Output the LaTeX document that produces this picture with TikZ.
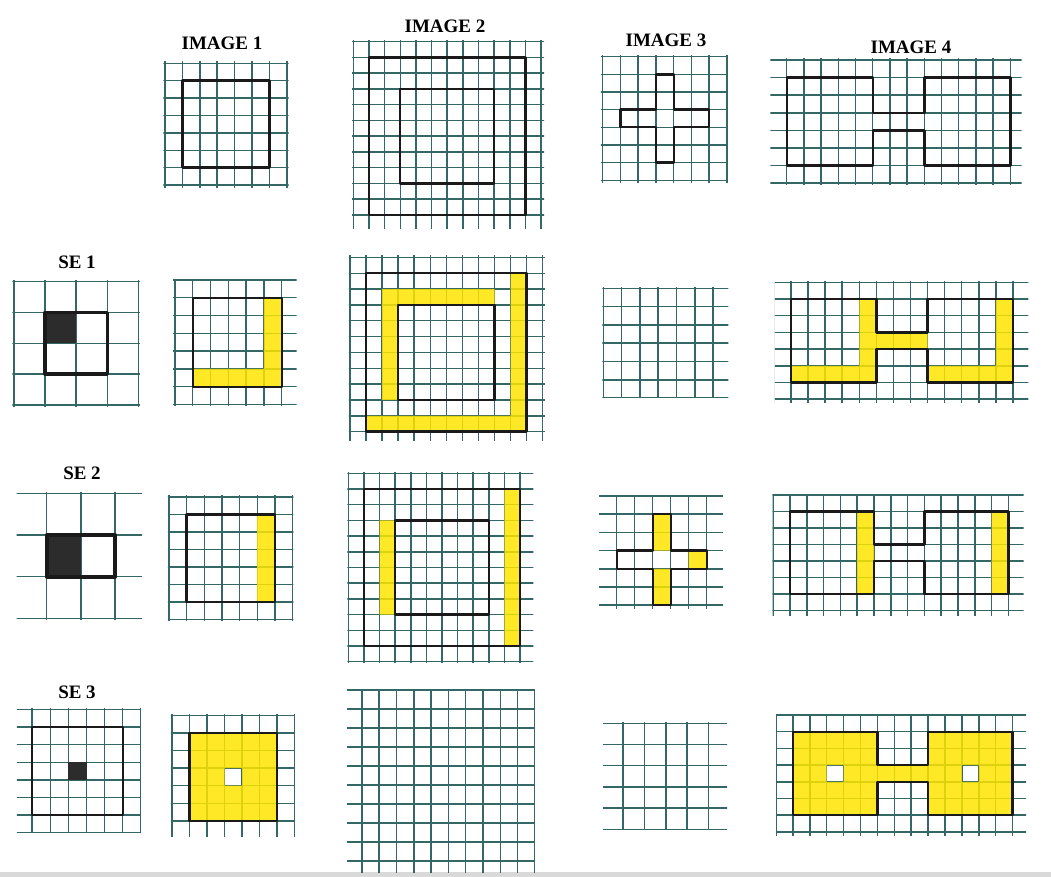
\documentclass[tikz,border=0pt]{standalone}
\usepackage{fontspec}
\setmainfont{Liberation Serif}
\definecolor{gridteal}{RGB}{52,104,102}
\definecolor{hlyellow}{RGB}{255,228,0}
\definecolor{ink}{RGB}{26,26,26}
\newcommand{\paper}[4]{%
 \begin{scope}
  \clip (#1,#2) rectangle (#3,#4);
  \foreach \k in {-1,...,14}{
   \draw[gridline] (\k,-1) -- (\k,15);
   \draw[gridline] (-2,\k) -- (15,\k);}
 \end{scope}}
\def\plusshape{(3,1) -- (4,1) -- (4,3) -- (6,3) -- (6,4) -- (4,4) -- (4,6) -- (3,6) -- (3,4) -- (1,4) -- (1,3) -- (3,3) -- cycle}
\def\hshape{(0,1) -- (5,1) -- (5,3) -- (8,3) -- (8,1) -- (13,1) -- (13,6) -- (8,6) -- (8,4) -- (5,4) -- (5,6) -- (0,6) -- cycle}
\begin{document}
\begin{tikzpicture}[x=1pt,y=-1pt,
 gridline/.style={draw=gridteal,line width=1.45pt},
 outline/.style={draw=ink,line width=2.4pt,line join=round},
 seline/.style={outline,line width=3.6pt},
 hl/.style={fill=hlyellow,fill opacity=.85},
 dark/.style={fill=ink!92},
 title/.style={font=\bfseries\fontsize{19}{21}\selectfont,inner sep=0pt},
 panel/.style n args={4}{shift={(#1,#2)},x=#3pt,y=-#4pt}]
 \fill[white] (0,0) rectangle (1051,877);
 \useasboundingbox (0,0) rectangle (1051,877);
 \fill[gray!30] (0,872) rectangle (1051,877);
 \node[title] (img1) at (222,43) {IMAGE 1};
 \node[title] (img2) at (445,26) {IMAGE 2};
 \node[title] (img3) at (666,40) {IMAGE 3};
 \node[title] (img4) at (911,47) {IMAGE 4};
 \node[title] (se1) at (77,262) {SE 1};
 \node[title] (se2) at (82,473) {SE 2};
 \node[title] (se3) at (77,692) {SE 3};
 % row of the four images
 \begin{scope}[panel={165}{63.3}{17.4}{17.4}]
  \paper{-0.1}{-0.1}{7.1}{7.13}
  \draw[outline] (1,1) rectangle (6,6);
 \end{scope}
 \begin{scope}[panel={353.3}{41.7}{15.65}{15.75}]
  \paper{-0.07}{-0.06}{12.2}{11.85}
  \draw[outline] (1,1) rectangle (11,11);
  \draw[outline] (3,3) rectangle (9,9);
 \end{scope}
 \begin{scope}[panel={602.7}{56.7}{17.75}{17.65}]
  \paper{-0.1}{-0.05}{7.05}{7.15}
  \draw[outline] \plusshape;
 \end{scope}
 \begin{scope}[panel={786.7}{60}{17.2}{17.6}]
  \paper{-0.95}{-0.06}{13.66}{7.1}
  \draw[outline] \hshape;
 \end{scope}
 % SE 1
 \begin{scope}[panel={14}{281.7}{31.1}{30.8}]
  \paper{-0.05}{-0.05}{4.05}{4.05}
  \fill[dark] (1,1) rectangle (2,2);
  \draw[seline] (1,1) rectangle (3,3);
 \end{scope}
 \begin{scope}[panel={174.9}{279.9}{17.8}{17.8}]
  \paper{-0.1}{-0.05}{6.84}{7.03}
  \fill[hl] (5,1) rectangle (6,6) (1,5) rectangle (5,6);
  \draw[outline] (1,1) rectangle (6,6);
 \end{scope}
 \begin{scope}[panel={349.9}{257.4}{16.07}{15.84}]
  \paper{-0.06}{-0.1}{12.14}{11.55}
  \fill[hl] (2,2) rectangle (9,3) (2,3) rectangle (3,9) (1,10) rectangle (10,11) (10,1) rectangle (11,11);
  \draw[outline] (1,1) rectangle (11,11);
  \draw[outline] (3,3) rectangle (9,9);
 \end{scope}
 \begin{scope}[panel={603.3}{288.3}{18.3}{18.3}]
  \paper{-0.05}{-0.05}{6.83}{5.95}
 \end{scope}
 \begin{scope}[panel={791}{282.3}{17.07}{16.7}]
  \paper{-0.94}{-0.06}{13.9}{7.2}
  \fill[hl] (4,1) rectangle (5,5) (0,5) rectangle (5,6) (5,3) rectangle (8,4)
   (12,1) rectangle (13,5) (8,5) rectangle (13,6);
  \draw[outline] \hshape;
 \end{scope}
 % SE 2
 \begin{scope}[panel={12.5}{493.3}{34.2}{41.7}]
  \paper{0.12}{-0.03}{3.78}{3.02}
  \fill[dark] (1,1) rectangle (2,2);
  \draw[seline] (1,1) rectangle (3,2);
 \end{scope}
 \begin{scope}[panel={169}{496.8}{17.65}{17.5}]
  \paper{-0.06}{-0.05}{7.04}{7.05}
  \fill[hl] (5,1) rectangle (6,6);
  \draw[outline] (1,1) rectangle (6,6);
 \end{scope}
 \begin{scope}[panel={348.4}{473.3}{15.6}{15.7}]
  \paper{-0.06}{-0.06}{11.85}{12.05}
  \fill[hl] (2,3) rectangle (3,9) (10,1) rectangle (11,11);
  \draw[outline] (1,1) rectangle (11,11);
  \draw[outline] (3,3) rectangle (9,9);
 \end{scope}
 \begin{scope}[panel={598.7}{496}{18}{18.2}]
  \paper{0.03}{-0.05}{6.9}{6.2}
  \fill[hl] (3,1) rectangle (4,3) (3,4) rectangle (4,6) (5,3) rectangle (6,4);
  \draw[outline] \plusshape;
 \end{scope}
 \begin{scope}[panel={790}{495}{16.8}{16.5}]
  \paper{-1.03}{-0.05}{13.9}{7.3}
  \fill[hl] (4,1) rectangle (5,6) (12,1) rectangle (13,6);
  \draw[outline] \hshape;
 \end{scope}
 % SE 3
 \begin{scope}[panel={14.1}{709.3}{18.1}{17.65}]
  \paper{0.15}{-0.05}{7.0}{7.0}
  \fill[dark] (3,3) rectangle (4,4);
  \draw[outline] (1,1) rectangle (6,6);
 \end{scope}
 \begin{scope}[panel={172.2}{715.3}{17.45}{17.6}]
  \paper{-0.07}{-0.05}{7.03}{6.9}
  \fill[hl,even odd rule] (1,1) rectangle (6,6) (3,3) rectangle (4,4);
  \draw[outline] (1,1) rectangle (6,6);
 \end{scope}
 \begin{scope}[panel={344.6}{690}{17.3}{19}]
  \paper{0.15}{-0.05}{11.0}{9.63}
 \end{scope}
 \begin{scope}[panel={601.9}{723.3}{21.3}{21.2}]
  \paper{0.06}{-0.05}{5.88}{5.0}
 \end{scope}
 \begin{scope}[panel={792.9}{715}{16.9}{16.7}]
  \paper{-1.0}{-0.05}{13.8}{7.2}
  \fill[hl,even odd rule] \hshape (2,3) rectangle (3,4) (10,3) rectangle (11,4);
  \draw[outline] \hshape;
 \end{scope}
\end{tikzpicture}
\end{document}
